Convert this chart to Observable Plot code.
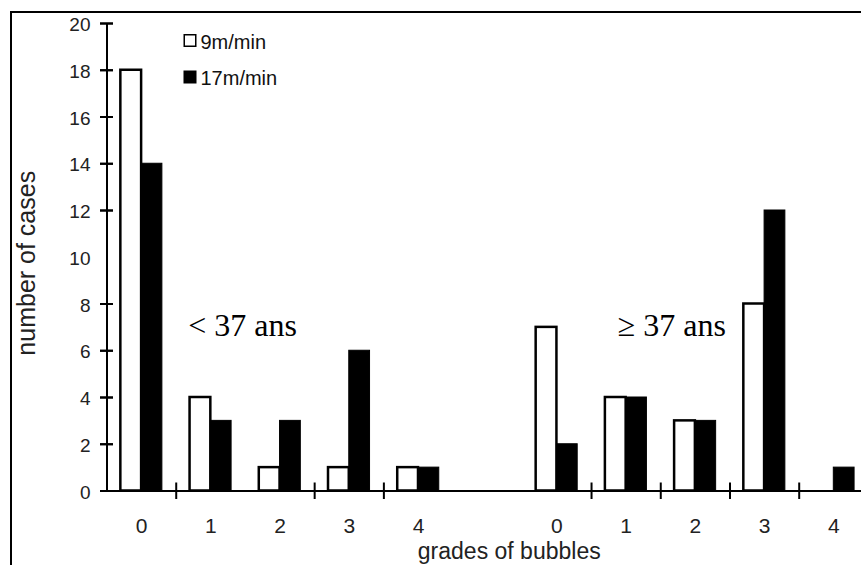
<!DOCTYPE html>
<html>
<head>
<meta charset="utf-8">
<script src="https://cdn.jsdelivr.net/npm/d3@7"></script>
<script src="https://cdn.jsdelivr.net/npm/@observablehq/plot@0.6"></script>
<style>
  html, body { margin: 0; padding: 0; background: #fff; overflow: hidden; }
  #wrap { position: relative; width: 861px; height: 565px; overflow: hidden; }
  #border { position: absolute; left: 10px; top: 11px; width: 900px; height: 600px;
            border-left: 2px solid #000; border-top: 2px solid #000; pointer-events: none; }
</style>
</head>
<body>
<div id="wrap"><div id="border"></div></div>
<script>
// ---- data ----
const groups = ["< 37 ans", "≥ 37 ans"];
const grades = ["0", "1", "2", "3", "4"];
const seriesNames = ["9m/min", "17m/min"];
const under37_9 = [18, 4, 1, 1, 1];
const under37_17 = [14, 3, 3, 6, 1];
const over37_9 = [7, 4, 3, 8, 0];
const over37_17 = [2, 4, 3, 12, 1];
const yTicks = [0, 2, 4, 6, 8, 10, 12, 14, 16, 18, 20];
const yTickMarks = [0, 2, 4, 6, 8, 12, 14, 16, 18, 20]; // the reference shows no mark at 10
const separatorsAfter = [[0, 2, 3], [0, 1, 2, 3]];      // grade boundaries that carry a tick
const xLabel = "grades of bubbles";
const yLabel = "number of cases";
const annotations = [
  {label: groups[0], x: 1.46, y: 6.65},
  {label: groups[1], x: 7.66, y: 6.65}
];

// ---- table ----
const valuesByGroup = [[under37_9, under37_17], [over37_9, over37_17]];
const slotsPerGroup = grades.length + 1;
const rows = [];
groups.forEach((g, gi) => grades.forEach((gr, k) => seriesNames.forEach((s, si) => {
  rows.push({group: g, grade: gr, series: s, value: valuesByGroup[gi][si][k], slot: gi * slotsPerGroup + k});
})));
const slotTicks = [];
const slotLabel = new Map();
groups.forEach((g, gi) => grades.forEach((gr, k) => {
  const s = gi * slotsPerGroup + k; slotTicks.push(s); slotLabel.set(s, gr);
}));
const separators = [];
separatorsAfter.forEach((arr, gi) => arr.forEach(k => separators.push(gi * slotsPerGroup + k + 0.5)));

// ---- layout ----
const W = 861, H = 565, ML = 106.5, MR = 0, MT = 23, MB = 74.5;
const xDomain = [-0.5, 10.4];
const yDomain = [0, 20];
const half = 0.3;
const sans = '"Liberation Sans", Arial, sans-serif';
const seriesFill = ["white", "black"];
const pxPerUnit = (W - ML - MR) / (xDomain[1] - xDomain[0]);
const crossHalf = 6.5 / pxPerUnit; // half length of the y-axis cross ticks, in x units

// legend drawn inside the plot, offsets from the frame's top-left corner
const legendMarks = seriesNames.flatMap((name, i) => [
  Plot.dot([name], {frameAnchor: "top-left", dx: 83, dy: 17 + i * 36.5, symbol: "square", r: 6.5,
    fill: seriesFill[i], stroke: "black", strokeWidth: 1.5}),
  Plot.text([name], {frameAnchor: "top-left", textAnchor: "start", lineAnchor: "bottom",
    dx: 93.5, dy: 25.3 + i * 35.7, fontSize: 20, fill: "#111"})
]);

const chart = Plot.plot({
  width: W, height: H,
  marginLeft: ML, marginRight: MR, marginTop: MT, marginBottom: MB,
  x: {domain: xDomain, axis: null},
  y: {domain: yDomain, axis: null},
  style: {fontFamily: sans, background: "transparent", overflow: "visible"},
  marks: [
    Plot.rectY(rows.filter(d => d.series === seriesNames[0] && d.value > 0),
      {x1: d => d.slot - half, x2: d => d.slot, y: "value", fill: seriesFill[0], stroke: "black", strokeWidth: 2.5}),
    Plot.rectY(rows.filter(d => d.series === seriesNames[1] && d.value > 0),
      {x1: d => d.slot, x2: d => d.slot + half, y: "value", fill: seriesFill[1], stroke: "black", strokeWidth: 1}),
    Plot.ruleY([0], {stroke: "#000", strokeWidth: 2}),
    Plot.ruleX([xDomain[0]], {y1: yDomain[0], y2: yDomain[1], stroke: "#000", strokeWidth: 2}),
    // cross ticks on the y axis (extend on both sides of the axis line)
    Plot.ruleY(yTickMarks, {y: d => d, x1: xDomain[0] - crossHalf, x2: xDomain[0] + crossHalf,
      stroke: "#000", strokeWidth: 2, clip: false}),
    Plot.axisY(yTickMarks, {tickSize: 13, dx: 6.5, strokeWidth: 2, stroke: "#000", tickFormat: () => "",
      label: null, ariaLabel: "YCROSS"}),
    Plot.ruleX(separators, {x: d => d, y1: 0, y2: 0, insetTop: 8.5, insetBottom: 8, stroke: "#000", strokeWidth: 2}),
    Plot.axisY(yTicks, {tickSize: 0, tickPadding: 16.5, fontSize: 19, fill: "#222", dy: 1.5, label: null}),
    Plot.axisX(slotTicks, {tickSize: 0, tickPadding: 27, fontSize: 21, fill: "#222", label: null,
      tickFormat: d => slotLabel.get(d)}),
    Plot.text([xLabel], {frameAnchor: "bottom", textAnchor: "middle", dx: 25, dy: 68, lineAnchor: "bottom", fontSize: 23, fill: "#222"}),
    Plot.text([yLabel], {frameAnchor: "left", textAnchor: "middle", lineAnchor: "middle", rotate: -90, dx: -80, dy: 6, fontSize: 25, fill: "#222"}),
    Plot.text(annotations, {x: "x", y: "y", text: "label", lineAnchor: "bottom", fontSize: 32,
      fontFamily: '"Liberation Serif", "Times New Roman", serif', fill: "#000"}),
    ...legendMarks
  ]
});
const wrap = document.getElementById("wrap");
wrap.insertBefore(chart, wrap.firstChild);
</script>
</body>
</html>
